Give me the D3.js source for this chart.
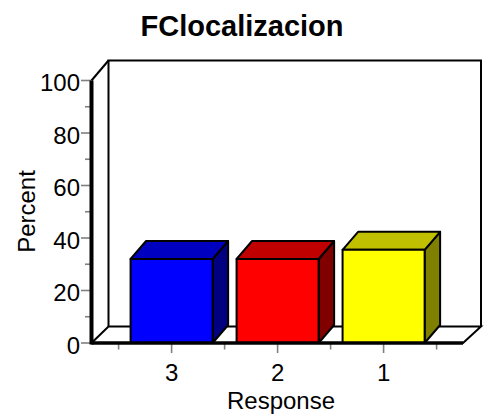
<!DOCTYPE html>
<html><head><meta charset="utf-8">
<script src="https://cdn.jsdelivr.net/npm/d3@7"></script>
<style>html,body{margin:0;padding:0;background:#fff}svg{display:block}text{font-family:"Liberation Sans",Arial,sans-serif;fill:#000}</style>
</head><body><svg id="c" width="488" height="415"></svg>
<script>
const categories = ["3","2","1"];
const values = [32, 32, 35.5];
const frontColors = ["#0000ff","#ff0000","#ffff00"];
const topColors = ["#0000c0","#c00000","#c0c000"];
const sideColors = ["#000080","#800000","#808000"];
const yTicks = [0,20,40,60,80,100];
const yMinor = [10,30,50,70,90];
const titleText = "FClocalizacion", xTitle = "Response", yTitle = "Percent";

const svg = d3.select("#c");
const dx = 15.5, dy = -18;
const y = d3.scaleLinear().domain([0,100]).range([343,80.5]);
const x = d3.scaleBand().domain(categories).range([118.6,436.6]).paddingInner(0.226).paddingOuter(0.113);
const floorL = 91.5, floorR = 463, wallL = 108.5, wallR = 481, wallTop = 60.5, wallBottom = 326.5;
const line = (x1,y1,x2,y2,w,c="#000") => svg.append("line").attr("x1",x1).attr("y1",y1).attr("x2",x2).attr("y2",y2).attr("stroke",c).attr("stroke-width",w);

svg.append("path").attr("d",`M${wallL},${wallBottom}V${wallTop}H${wallR}V${wallBottom}`).attr("fill","#fff").attr("stroke","#000").attr("stroke-width",2);
svg.append("path").attr("d",`M${floorL},${y(0)}L${wallL},${wallBottom}H${wallR}L${floorR},${y(0)}Z`).attr("fill","#fff").attr("stroke","#000").attr("stroke-width",2);
line(floorL,y(100),wallL,wallTop,2);

yMinor.forEach(v=>line(85,y(v),91,y(v),1.6,"#808080"));
yTicks.forEach(v=>line(81,y(v),91,y(v),1.6,"#808080"));
const yAxis = d3.axisLeft(y).tickValues(yTicks).tickSize(0).tickPadding(0);
const ya = svg.append("g").attr("transform","translate(80,2.5)").call(yAxis);
ya.select(".domain").remove();
ya.selectAll("text").attr("font-size",24).attr("font-family",'"Liberation Sans"').attr("fill","#000");

x.domain().forEach((c,i)=>{
  const step = x.step();
  const left = x(c)+x.bandwidth()/2-step/2;
  line(left,343,left,349.5,1.6,"#808080");
  if(i===categories.length-1) line(left+step,343,left+step,349.5,1.6,"#808080");
});
const xAxis = d3.axisBottom(x).tickSize(0).tickPadding(0);
categories.forEach(c=>line(x(c)+x.bandwidth()/2,343,x(c)+x.bandwidth()/2,353,1.6,"#808080"));
const xa = svg.append("g").attr("transform","translate(0,364)").call(xAxis);
xa.select(".domain").remove();
xa.selectAll("text").attr("font-size",24).attr("font-family",'"Liberation Sans"').attr("fill","#000");

const bars = svg.selectAll("g.bar").data(categories).join("g").attr("class","bar");
bars.each(function(c,i){
  const g = d3.select(this), l=x(c), r=l+x.bandwidth(), t=y(values[i]), b=y(0);
  g.append("path").attr("d",`M${r},${b}L${r+dx},${b+dy}V${t+dy}L${r},${t}Z`).attr("fill",sideColors[i]);
  g.append("path").attr("d",`M${l},${t}L${l+dx},${t+dy}H${r+dx}L${r},${t}Z`).attr("fill",topColors[i]);
  g.append("rect").attr("x",l).attr("y",t).attr("width",r-l).attr("height",b-t).attr("fill",frontColors[i]);
  g.selectAll("path,rect").attr("stroke","#000").attr("stroke-width",2).attr("stroke-linejoin","round");
});

line(floorL,y(0),floorR,y(0),3.5);
line(floorL,y(0)+1.5,floorL,y(100),4);

svg.append("text").attr("x",242).attr("y",36).attr("text-anchor","middle").attr("font-size",29).attr("font-weight","bold").text(titleText);
svg.append("text").attr("x",281).attr("y",409).attr("text-anchor","middle").attr("font-size",24).text(xTitle);
svg.append("text").attr("transform","translate(35,211.5) rotate(-90)").attr("text-anchor","middle").attr("font-size",24).text(yTitle);
</script></body></html>
